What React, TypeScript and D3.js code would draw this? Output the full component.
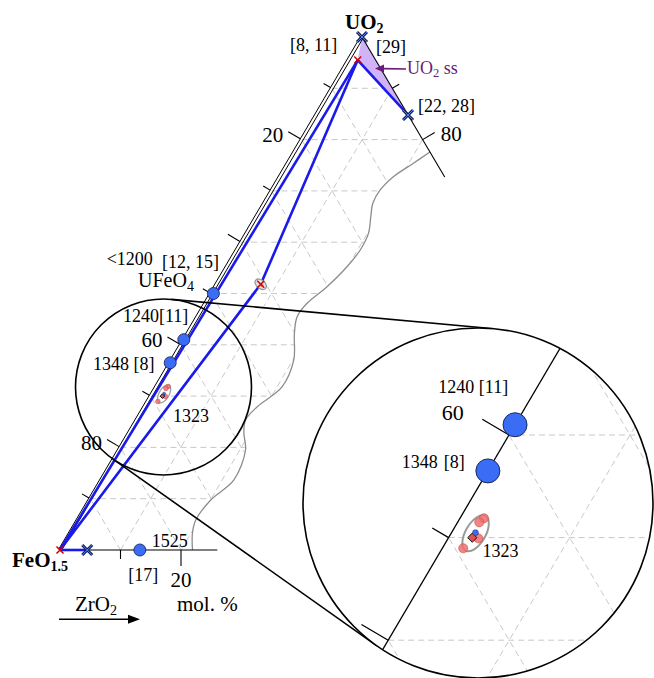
import React from 'react';
import * as d3 from 'd3';

const W = 654;
const H = 678;

// ---- ternary data: u = UO2 fraction, z = ZrO2 fraction (FeO1.5 = 1-u-z) ----
const gridSteps = [0.1, 0.2, 0.3, 0.4, 0.5, 0.6, 0.7, 0.8, 0.9];
const leftTickU = [0.1, 0.2, 0.3, 0.4, 0.5, 0.6, 0.7, 0.8, 0.9];
const leftLongU = [0.2, 0.4, 0.6, 0.8];
const leftLabelU = [0.8, 0.4, 0.2];
const leftLabelText = ['20', '60', '80'];
const rightTickU = [0.9, 0.8];
const rightLongU = [0.8];
const rightLabelU = [0.8];
const rightLabelText = ['80'];
const bottomTickZ = [0.1, 0.2];
const bottomLongZ = [0.2];
const bottomLabelZ = [0.2];
const bottomLabelText = ['20'];

// torn-edge boundary of the diagram (gray curve)
const boundaryU = [0.776, 0.7538, 0.7277, 0.7018, 0.6758, 0.6497, 0.6173, 0.5848, 0.5522, 0.5133, 0.4809, 0.4548, 0.4224, 0.3704, 0.3183, 0.2793, 0.2534, 0.2275, 0.1949, 0.1365, 0.0975, 0.0585, 0.0326, 0];
const boundaryZ = [0.224, 0.2078, 0.1878, 0.1789, 0.1797, 0.1894, 0.2017, 0.2043, 0.1987, 0.1851, 0.1683, 0.1649, 0.1766, 0.2015, 0.2084, 0.1866, 0.1802, 0.1904, 0.2094, 0.2193, 0.2005, 0.1952, 0.2026, 0.219];

// phase points
const apexU = 1, apexZ = 0;
const ssU = 0.955, ssZ = 0.0154;        // UO2 ss corner (red x)
const uzU = 0.848, uzZ = 0.152;         // [22, 28]
const feZrU = 0, feZrZ = 0.045;        // FeO1.5-ZrO2 binary point
const midU = 0.518, midZ = 0.0732;      // bend point on tie-line
// liquidus points (blue dots)
const dotU = [0.5, 0.41, 0.365, 0];
const dotZ = [0.004, 0, 0, 0.132];
// 1323 cluster
const clusterPinkU = [0.3188, 0.3149, 0.2993, 0.2896];
const clusterPinkZ = [0.0198, 0.0179, 0.0249, 0.0173];
const clusterBlueU = 0.3048, clusterBlueZ = 0.0198;
const clusterDiamondU = 0.2999, clusterDiamondZ = 0.0196;
const clusterCenterU = 0.3042, clusterCenterZ = 0.0202;

// ---- scales ----
const uX = d3.scaleLinear().domain([0, 1]).range([0, 302]);
const uY = d3.scaleLinear().domain([0, 1]).range([550, 37]);
const zX = d3.scaleLinear().domain([0, 1]).range([60, 665]);
const xy = (u: number, z: number): [number, number] => [zX(z) + uX(u), uY(u)];

const FONT = '"Liberation Serif", "Times New Roman", serif';

// zoom mapping
const K = 2;
const P0 = xy(0.4, 0);
const Q0: [number, number] = [509, 435];
const zp = (p: [number, number]): [number, number] => [Q0[0] + K * (p[0] - P0[0]), Q0[1] + K * (p[1] - P0[1])];

const C1: [number, number] = [163.5, 387];
const R1 = 88;
const C2: [number, number] = [478, 503];
const R2 = 175;

function externalTangents(c1: number[], r1: number, c2: number[], r2: number) {
  const dx = c2[0] - c1[0], dy = c2[1] - c1[1];
  const d = Math.hypot(dx, dy);
  const base = Math.atan2(dy, dx);
  const a = Math.acos((r1 - r2) / d);
  return [base + a, base - a].map((t) => {
    const n = [Math.cos(t), Math.sin(t)];
    return [[c1[0] + r1 * n[0], c1[1] + r1 * n[1]], [c2[0] + r2 * n[0], c2[1] + r2 * n[1]]];
  });
}

function unit(v: number[]) {
  const l = Math.hypot(v[0], v[1]);
  return [v[0] / l, v[1] / l];
}

const BLUE_LINE = '#1a1aeb';
const DOT_FILL = '#3a6cf5';
const DOT_STROKE = '#1b2a5e';
const PINK = 'rgba(238,110,110,0.85)';

function XMark({ p, s = 5, dark = true }: { p: number[]; s?: number; dark?: boolean }) {
  const d = `M${p[0] - s},${p[1] - s}L${p[0] + s},${p[1] + s}M${p[0] - s},${p[1] + s}L${p[0] + s},${p[1] - s}`;
  if (!dark) return <path d={d} stroke="#d00000" strokeWidth={1.5} fill="none" />;
  return (
    <g>
      <path d={d} stroke="#14205a" strokeWidth={3} fill="none" />
      <path d={d} stroke="#4f82f5" strokeWidth={1} fill="none" />
    </g>
  );
}

export default function App() {
  const line = d3.line<[number, number]>().x((d) => d[0]).y((d) => d[1]);
  const curve = d3.line<[number, number]>().x((d) => d[0]).y((d) => d[1]).curve(d3.curveCatmullRom.alpha(0.5));

  const O = xy(0, 0);
  const A = xy(1, 0);
  const leftDir = unit([A[0] - O[0], A[1] - O[1]]);
  const outL = [leftDir[1], -leftDir[0]];
  const Zv = xy(0, 1);
  const rightDir = unit([Zv[0] - A[0], Zv[1] - A[1]]);
  const outR = [rightDir[1], -rightDir[0]];

  const boundaryPts = boundaryU.map((u, i) => xy(u, boundaryZ[i]));
  const boundaryPath = curve(boundaryPts) || '';
  const clipD = (curve(boundaryPts.slice().reverse()) || '') + `L${A[0]},${A[1]}L${O[0]},${O[1]}Z`;

  // grid segments in data space
  const gridSegs: [number, number][][] = [];
  gridSteps.forEach((t) => {
    gridSegs.push([[t, 0], [t, 1 - t]]); // constant UO2
    gridSegs.push([[0, t], [1 - t, t]]); // constant ZrO2
    gridSegs.push([[0, 1 - t], [1 - t, 0]]); // constant FeO1.5
  });
  const gridPx = gridSegs.map((s) => [xy(s[0][0], s[0][1]), xy(s[1][0], s[1][1])]);

  const leftTicks = leftTickU.map((u) => {
    const e = xy(u, 0);
    const s: [number, number] = [e[0] + outL[0] * 1.5, e[1] + outL[1] * 1.5];
    const len = leftLongU.includes(u) ? 14 : 8;
    const t: [number, number] = [s[0] + outL[0] * len, s[1] + outL[1] * len];
    return { u, e, s, t };
  });
  const rightTicks = rightTickU.map((u) => {
    const s = xy(u, 1 - u);
    const len = rightLongU.includes(u) ? 14 : 8;
    const t: [number, number] = [s[0] + outR[0] * len, s[1] + outR[1] * len];
    return { u, s, t };
  });
  const bottomTicks = bottomTickZ.map((z) => {
    const s = xy(0, z);
    const len = bottomLongZ.includes(z) ? 16 : 9;
    return { z, s, t: [s[0], s[1] + len] as [number, number] };
  });

  const apex = xy(apexU, apexZ);
  const ss = xy(ssU, ssZ);
  const uz = xy(uzU, uzZ);
  const feZr = xy(feZrU, feZrZ);
  const mid = xy(midU, midZ);
  const dots = dotU.map((u, i) => xy(u, dotZ[i]));
  const pinks = clusterPinkU.map((u, i) => xy(u, clusterPinkZ[i]));
  const cBlue = xy(clusterBlueU, clusterBlueZ);
  const cDia = xy(clusterDiamondU, clusterDiamondZ);
  const cCen = xy(clusterCenterU, clusterCenterZ);

  const [tUp, tLow] = externalTangents(C1, R1, C2, R2);
  const tangents = [tUp, tLow].sort((a, b) => a[0][1] - b[0][1]);

  const outerEdge = [[O[0] + outL[0] * 1.5, O[1] + outL[1] * 1.5], [A[0] + outL[0] * 1.5, A[1] + outL[1] * 1.5]] as [number, number][];
  const innerEdge = [[O[0] - outL[0] * 1.5, O[1] - outL[1] * 1.5], [A[0] - outL[0] * 1.5, A[1] - outL[1] * 1.5]] as [number, number][];

  const zoomTf = `translate(${Q0[0] - K * P0[0]},${Q0[1] - K * P0[1]}) scale(${K})`;

  const diamond = (p: number[], s: number) => `M${p[0]},${p[1] - s}L${p[0] + s},${p[1]}L${p[0]},${p[1] + s}L${p[0] - s},${p[1]}Z`;

  const renderCluster = (k: number, map: (p: [number, number]) => [number, number]) => {
    const c = map(cCen);
    return (
      <g>
        <ellipse cx={c[0]} cy={c[1]} rx={5 * k} ry={10 * k} transform={`rotate(30,${c[0]},${c[1]})`} fill="none" stroke="#9a9a9a" strokeWidth={k === 1 ? 1.2 : 2} />
        {pinks.map((p, i) => {
          const q = map(p);
          return <circle key={i} cx={q[0]} cy={q[1]} r={2.3 * k} fill={PINK} stroke="#c04040" strokeWidth={0.5} />;
        })}
        <path d={diamond(map(cDia), 2.3 * k)} fill="#e05050" stroke="#000" strokeWidth={0.9} />
        <circle cx={map(cBlue)[0]} cy={map(cBlue)[1]} r={1.5 * k} fill={DOT_FILL} stroke={DOT_STROKE} strokeWidth={0.5} />
      </g>
    );
  };
  const id = (p: [number, number]) => p;

  const zDots = dots.slice(1, 3).map((p) => zp(p));
  const zClu = zp(cCen);

  return (
    <svg width={W} height={H} style={{ position: 'absolute', left: 0, top: 0, background: '#fff' }} fontFamily={FONT}>
      <defs>
        <clipPath id="mainClip">
          <path d={clipD} />
        </clipPath>
        <clipPath id="zoomTri">
          <path d={clipD} transform={zoomTf} />
        </clipPath>
        <clipPath id="bigCircle">
          <circle cx={C2[0]} cy={C2[1]} r={R2} />
        </clipPath>
      </defs>
      <rect x={0} y={0} width={W} height={H} fill="#fff" />

      {/* main grid */}
      <g clipPath="url(#mainClip)">
        {gridPx.map((s, i) => (
          <line key={i} x1={s[0][0]} y1={s[0][1]} x2={s[1][0]} y2={s[1][1]} stroke="#c2c2c2" strokeWidth={0.9} strokeDasharray="6,4" />
        ))}
      </g>
      <path d={boundaryPath} fill="none" stroke="#8c8c8c" strokeWidth={1.3} />

      {/* UO2 ss region */}
      <path d={line([apex, ss, uz]) + 'Z'} fill="#d2b3f7" stroke="none" />

      {/* axes */}
      <path d={line(outerEdge) || ''} stroke="#000" strokeWidth={1} fill="none" />
      <path d={line(innerEdge) || ''} stroke="#000" strokeWidth={1} fill="none" />
      <path d={line([A, xy(0.727, 0.273)]) || ''} stroke="#000" strokeWidth={1.1} fill="none" />
      <path d={line([O, xy(0, 0.26)]) || ''} stroke="#000" strokeWidth={1.1} fill="none" />
      {leftTicks.map((t, i) => (
        <line key={i} x1={t.s[0]} y1={t.s[1]} x2={t.t[0]} y2={t.t[1]} stroke="#000" strokeWidth={1.1} />
      ))}
      {rightTicks.map((t, i) => (
        <line key={i} x1={t.s[0]} y1={t.s[1]} x2={t.t[0]} y2={t.t[1]} stroke="#000" strokeWidth={1.1} />
      ))}
      {bottomTicks.map((t, i) => (
        <line key={i} x1={t.s[0]} y1={t.s[1]} x2={t.t[0]} y2={t.t[1]} stroke="#000" strokeWidth={1.1} />
      ))}
      {leftLabelU.map((u, i) => {
        const t = leftTicks.find((d) => d.u === u)!;
        return (
          <text key={i} x={t.t[0] - 5} y={t.t[1] + 10} fontSize={21} textAnchor="end">{leftLabelText[i]}</text>
        );
      })}
      {rightLabelU.map((u, i) => {
        const t = rightTicks.find((d) => d.u === u)!;
        return (
          <text key={i} x={t.t[0] + 6} y={t.t[1] + 9} fontSize={21}>{rightLabelText[i]}</text>
        );
      })}
      {bottomLabelZ.map((z, i) => {
        const t = bottomTicks.find((d) => d.z === z)!;
        return (
          <text key={i} x={t.t[0]} y={t.t[1] + 21} fontSize={21} textAnchor="middle">{bottomLabelText[i]}</text>
        );
      })}

      {/* tie lines */}
      <path d={line([ss, O]) || ''} stroke={BLUE_LINE} strokeWidth={2.6} fill="none" />
      <path d={line([ss, mid, O]) || ''} stroke={BLUE_LINE} strokeWidth={2.6} fill="none" strokeLinejoin="round" />
      <path d={line([ss, uz]) || ''} stroke={BLUE_LINE} strokeWidth={2.6} fill="none" />
      <path d={line([O, feZr]) || ''} stroke={BLUE_LINE} strokeWidth={2.6} fill="none" />

      {/* magnifier circles */}
      <circle cx={C1[0]} cy={C1[1]} r={R1} fill="none" stroke="#000" strokeWidth={1.6} />
      {tangents.map((t, i) => (
        <line key={i} x1={t[0][0]} y1={t[0][1]} x2={t[1][0]} y2={t[1][1]} stroke="#000" strokeWidth={1.6} />
      ))}
      <circle cx={C2[0]} cy={C2[1]} r={R2} fill="#fff" stroke="none" />

      {/* mid cluster */}
      <ellipse cx={mid[0]} cy={mid[1]} rx={6.5} ry={4.2} transform={`rotate(40,${mid[0]},${mid[1]})`} fill="#e4e4e4" stroke="#9a9a9a" strokeWidth={1.3} />
      <circle cx={mid[0] + 1} cy={mid[1] + 1} r={1.8} fill={PINK} />
      <XMark p={mid} s={3.5} dark={false} />

      {/* main cluster 1323 */}
      {renderCluster(1, id)}

      {/* markers */}
      <XMark p={ss} s={3.5} dark={false} />
      <XMark p={O} s={3.5} dark={false} />
      <XMark p={apex} s={5} />
      <XMark p={uz} s={5} />
      <XMark p={feZr} s={5} />
      {dots.map((p, i) => (
        <circle key={i} cx={p[0]} cy={p[1]} r={6} fill={DOT_FILL} stroke={DOT_STROKE} strokeWidth={0.9} />
      ))}

      {/* labels main */}
      <text x={apex[0] - 17} y={apex[1] - 8} fontSize={21} fontWeight="bold">UO<tspan fontSize={14} dy={4}>2</tspan></text>
      <text x={apex[0] - 72} y={apex[1] + 14} fontSize={18}>[8, 11]</text>
      <text x={apex[0] + 14} y={apex[1] + 16} fontSize={18}>[29]</text>
      <text x={uz[0] + 10} y={uz[1] - 3} fontSize={18}>[22, 28]</text>
      <line x1={406} y1={69} x2={383} y2={68.6} stroke="#6b1b78" strokeWidth={1.6} />
      <path d="M375,68.4L384,64.6L384,72.4Z" fill="#6b1b78" />
      <text x={407} y={74} fontSize={18} fill="#6b1b78">UO<tspan fontSize={12.5} dy={3}>2</tspan><tspan dy={-3}> ss</tspan></text>

      <text x={dots[0][0] - 106.7} y={dots[0][1] - 28.5} fontSize={18}>&lt;1200</text>
      <text x={dots[0][0] - 51.4} y={dots[0][1] - 25.5} fontSize={18}>[12, 15]</text>
      <text x={dots[0][0] - 75.4} y={dots[0][1] - 6.5} fontSize={20}>UFeO<tspan fontSize={14} dy={4}>4</tspan></text>
      <text x={dots[1][0] - 60.8} y={dots[1][1] - 18} fontSize={18}>1240[11]</text>
      <text x={dots[2][0] - 77.2} y={dots[2][1] + 7.2} fontSize={18}>1348 [8]</text>
      <text x={cCen[0] + 8.9} y={cCen[1] + 28.1} fontSize={18}>1323</text>
      <text x={dots[3][0] + 11.8} y={dots[3][1] - 3.3} fontSize={18}>1525</text>
      <text x={dots[3][0] - 11.6} y={dots[3][1] + 31} fontSize={18}>[17]</text>

      <text x={12} y={567} fontSize={21} fontWeight="bold">FeO<tspan fontSize={14} dy={4}>1.5</tspan></text>
      <text x={75} y={611} fontSize={21}>ZrO<tspan fontSize={14} dy={4}>2</tspan></text>
      <text x={177} y={611} fontSize={21}>mol. %</text>
      <line x1={59} y1={619.3} x2={131} y2={619.3} stroke="#000" strokeWidth={1.5} />
      <path d="M140,619.3L128,614.8L128,623.8Z" fill="#000" />

      {/* zoomed view */}
      <g clipPath="url(#bigCircle)">
        <g clipPath="url(#zoomTri)">
          {gridPx.map((s, i) => {
            const a = zp(s[0]);
            const b = zp(s[1]);
            return <line key={i} x1={a[0]} y1={a[1]} x2={b[0]} y2={b[1]} stroke="#c2c2c2" strokeWidth={0.9} strokeDasharray="6,4" />;
          })}
        </g>
        <path d={line([zp(O), zp(A)]) || ''} stroke="#000" strokeWidth={1.3} fill="none" />
        {leftTicks.map((t, i) => {
          const a = zp(t.e);
          const b = zp(t.t);
          return <line key={i} x1={a[0]} y1={a[1]} x2={b[0]} y2={b[1]} stroke="#000" strokeWidth={1.3} />;
        })}
        <text x={441.7} y={420} fontSize={22}>60</text>
        {renderCluster(2, zp)}
        {zDots.map((p, i) => (
          <circle key={i} cx={p[0]} cy={p[1]} r={12} fill={DOT_FILL} stroke={DOT_STROKE} strokeWidth={1} />
        ))}
        <text x={zDots[0][0] - 76.7} y={zDots[0][1] - 31.8} fontSize={18}>1240 [11]</text>
        <text x={zDots[1][0] - 86} y={zDots[1][1] - 3} fontSize={18}>1348</text>
        <text x={zDots[1][0] - 44} y={zDots[1][1] - 3} fontSize={18}>[8]</text>
        <text x={zClu[0] + 7} y={zClu[1] + 24} fontSize={18}>1323</text>
      </g>
      <circle cx={C2[0]} cy={C2[1]} r={R2} fill="none" stroke="#000" strokeWidth={1.6} />
    </svg>
  );
}
